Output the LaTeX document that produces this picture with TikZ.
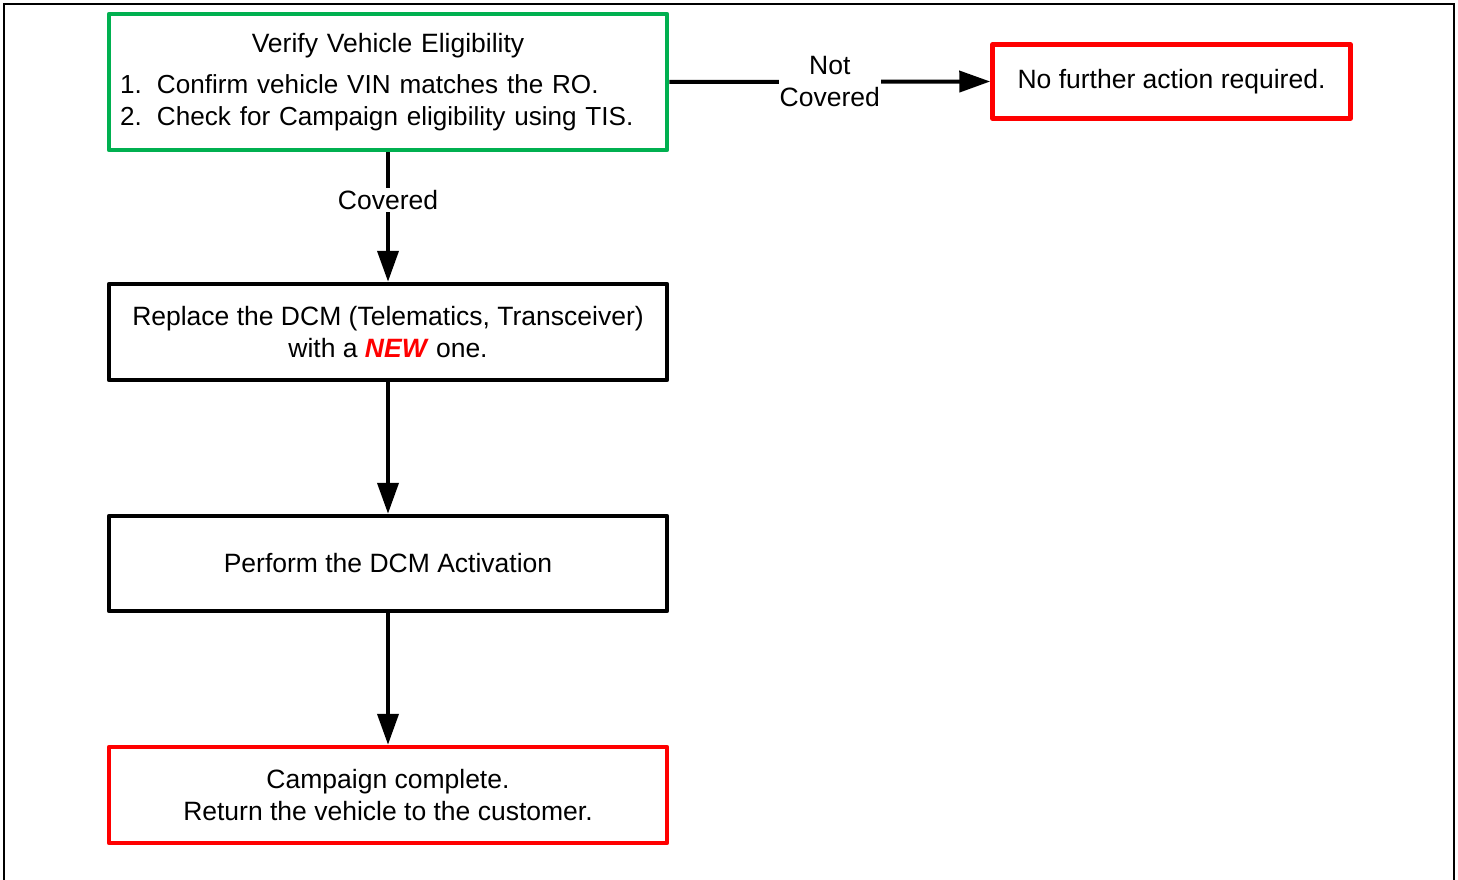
\documentclass[tikz,border=0pt]{standalone}
\usepackage{fontspec}
\setmainfont{Liberation Sans}
\usetikzlibrary{arrows.meta}
\definecolor{boxgreen}{HTML}{00B050}
\definecolor{boxred}{HTML}{FF0000}
\begin{document}
\begin{tikzpicture}[x=1pt,y=-1pt,
  every node/.style={font=\fontsize{26.5}{32}\selectfont},
  flowbox/.style={draw, line width=4.5pt, line join=round, rectangle, inner sep=0pt, align=center},
  greenbox/.style={flowbox, draw=boxgreen},
  redbox/.style={flowbox, draw=boxred},
  blackbox/.style={flowbox, draw=black},
  conn/.style={line width=4pt, -{Triangle[length=31pt,width=21pt]}},
  lbl/.style={fill=white, inner xsep=1pt, inner ysep=2pt, align=center}]
\useasboundingbox (0,0) rectangle (1458,880);
% outer frame
\draw[line width=2pt] (4,880) -- (4,4) -- (1454,4) -- (1454,880);
% boxes
\node[greenbox, minimum width=558pt, minimum height=136pt, text width=536pt, align=left, inner xsep=11pt] (verify) at (388,82)
  {\makebox[536pt]{Verify Vehicle Eligibility}\\[9pt]
   {\fontsize{26.1}{32}\selectfont\makebox[37pt][l]{1.}Confirm vehicle VIN matches the RO.}\\
   {\fontsize{26.1}{32}\selectfont\makebox[37pt][l]{2.}Check for Campaign eligibility using TIS.}};
\node[redbox, minimum width=358pt, minimum height=74pt] (nofurther) at (1171.5,81.5) {No further action required.};
\node[blackbox, minimum width=558pt, minimum height=96pt] (replace) at (388,332)
  {Replace the DCM (Telematics, Transceiver)\\with a \textcolor{boxred}{\textbf{\textit{NEW}}} one.};
\node[blackbox, minimum width=558pt, minimum height=95pt] (activate) at (388,563.5) {Perform the DCM Activation};
\node[redbox, minimum width=558pt, minimum height=96pt] (complete) at (388,795)
  {Campaign complete.\\Return the vehicle to the customer.};
% connectors
\draw[conn] (verify.east) -- (nofurther.west) node[lbl, pos=0.5] {Not\\Covered};
\draw[conn] (verify.south) -- (replace.north);
\node[lbl] (coveredlbl) at (388,200) {Covered};
\draw[conn] (replace.south) -- (activate.north);
\draw[conn] (activate.south) -- (complete.north);
\end{tikzpicture}
\end{document}
